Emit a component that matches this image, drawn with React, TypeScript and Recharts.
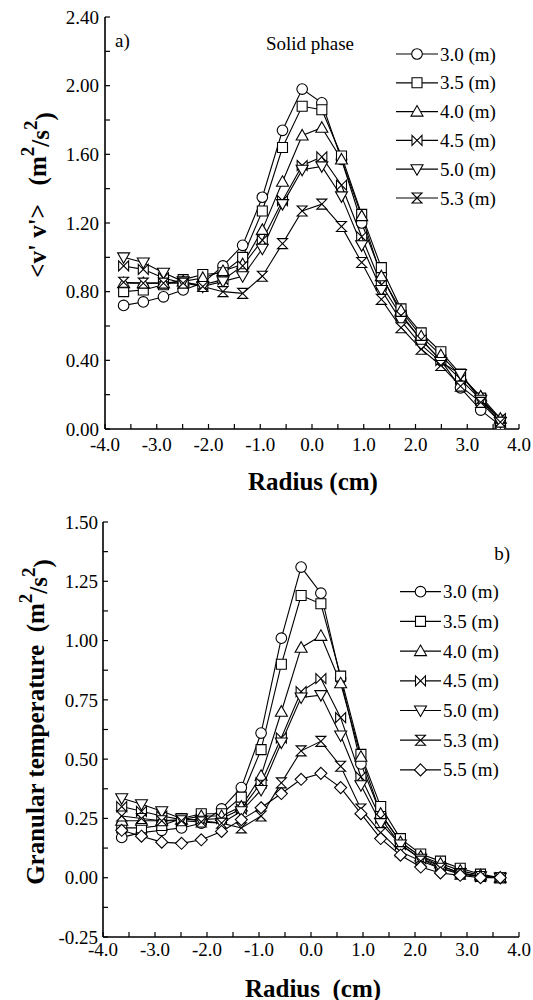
import React from "react"
import { LineChart, Line, XAxis, YAxis, Legend } from "recharts"

const radius = [-3.64, -3.26, -2.87, -2.49, -2.11, -1.72, -1.34, -0.96, -0.57, -0.19, 0.19, 0.57, 0.96, 1.34, 1.72, 2.11, 2.49, 2.87, 3.26, 3.64]

// a) <v'v'> solid phase
const vv30 = [0.72, 0.74, 0.77, 0.81, 0.85, 0.95, 1.07, 1.35, 1.74, 1.98, 1.9, 1.57, 1.2, 0.9, 0.67, 0.52, 0.4, 0.24, 0.11, 0.02]
const vv35 = [0.8, 0.81, 0.84, 0.87, 0.9, 0.91, 1.0, 1.27, 1.64, 1.88, 1.86, 1.59, 1.25, 0.94, 0.7, 0.56, 0.45, 0.32, 0.18, 0.05]
const vv40 = [0.85, 0.85, 0.85, 0.86, 0.88, 0.92, 0.96, 1.16, 1.44, 1.71, 1.755, 1.57, 1.24, 0.89, 0.69, 0.54, 0.43, 0.31, 0.19, 0.06]
const vv45 = [0.95, 0.93, 0.88, 0.85, 0.84, 0.87, 0.95, 1.1, 1.33, 1.535, 1.585, 1.42, 1.12, 0.84, 0.66, 0.52, 0.4, 0.29, 0.17, 0.06]
const vv50 = [1.0, 0.97, 0.91, 0.86, 0.83, 0.86, 0.89, 1.05, 1.31, 1.51, 1.53, 1.355, 1.07, 0.81, 0.63, 0.49, 0.39, 0.32, 0.17, 0.04]
const vv53 = [0.855, 0.85, 0.85, 0.85, 0.83, 0.8, 0.79, 0.89, 1.08, 1.27, 1.31, 1.18, 0.97, 0.755, 0.59, 0.465, 0.37, 0.25, 0.155, 0.04]

// b) granular temperature
const gt30 = [0.17, 0.19, 0.2, 0.21, 0.23, 0.29, 0.38, 0.61, 1.01, 1.31, 1.2, 0.84, 0.48, 0.27, 0.15, 0.09, 0.05, 0.02, 0.005, 0.0]
const gt35 = [0.21, 0.21, 0.22, 0.25, 0.27, 0.27, 0.34, 0.54, 0.9, 1.19, 1.155, 0.85, 0.52, 0.3, 0.165, 0.1, 0.07, 0.04, 0.015, 0.0]
const gt40 = [0.24, 0.24, 0.24, 0.245, 0.26, 0.26, 0.3, 0.43, 0.7, 0.97, 1.02, 0.82, 0.51, 0.27, 0.15, 0.09, 0.06, 0.03, 0.01, 0.0]
const gt45 = [0.3, 0.28, 0.26, 0.245, 0.245, 0.25, 0.29, 0.4, 0.59, 0.785, 0.84, 0.675, 0.425, 0.25, 0.14, 0.08, 0.05, 0.02, 0.005, 0.0]
const gt50 = [0.335, 0.31, 0.28, 0.25, 0.24, 0.23, 0.28, 0.37, 0.57, 0.76, 0.77, 0.6, 0.39, 0.23, 0.14, 0.08, 0.04, 0.02, 0.005, 0.0]
const gt53 = [0.26, 0.25, 0.24, 0.24, 0.235, 0.23, 0.21, 0.26, 0.4, 0.535, 0.575, 0.47, 0.29, 0.19, 0.11, 0.07, 0.04, 0.015, 0.005, 0.0]
const gt55 = [0.2, 0.175, 0.15, 0.145, 0.16, 0.195, 0.245, 0.295, 0.355, 0.415, 0.44, 0.38, 0.27, 0.165, 0.095, 0.045, 0.02, 0.01, 0.0, 0.0]

const xTicks = [-4, -3.5, -3, -2.5, -2, -1.5, -1, -0.5, 0, 0.5, 1, 1.5, 2, 2.5, 3, 3.5, 4]
const yTicksA = [0, 0.2, 0.4, 0.6, 0.8, 1.0, 1.2, 1.4, 1.6, 1.8, 2.0, 2.2, 2.4]
const yTicksB = [-0.25, -0.125, 0, 0.125, 0.25, 0.375, 0.5, 0.625, 0.75, 0.875, 1.0, 1.125, 1.25, 1.375, 1.5]

const seriesA = [
  { key: "s30", name: "3.0 (m)", shape: "circle", values: vv30 },
  { key: "s35", name: "3.5 (m)", shape: "square", values: vv35 },
  { key: "s40", name: "4.0 (m)", shape: "triangle", values: vv40 },
  { key: "s45", name: "4.5 (m)", shape: "bowtie", values: vv45 },
  { key: "s50", name: "5.0 (m)", shape: "down", values: vv50 },
  { key: "s53", name: "5.3 (m)", shape: "hourglass", values: vv53 },
]

const seriesB = [
  { key: "s30", name: "3.0 (m)", shape: "circle", values: gt30 },
  { key: "s35", name: "3.5 (m)", shape: "square", values: gt35 },
  { key: "s40", name: "4.0 (m)", shape: "triangle", values: gt40 },
  { key: "s45", name: "4.5 (m)", shape: "bowtie", values: gt45 },
  { key: "s50", name: "5.0 (m)", shape: "down", values: gt50 },
  { key: "s53", name: "5.3 (m)", shape: "hourglass", values: gt53 },
  { key: "s55", name: "5.5 (m)", shape: "diamond", values: gt55 },
]

const toRows = (series: any[]) =>
  radius.map((r, i) => {
    const row: any = { r }
    series.forEach((s) => (row[s.key] = s.values[i]))
    return row
  })

const dataA = toRows(seriesA)
const dataB = toRows(seriesB)

const FONT = "Liberation Serif, Tinos, DejaVu Serif, Times New Roman, serif"

function Marker({ shape, x, y }: { shape: string; x: number; y: number }) {
  const p = { fill: "#fff", stroke: "#000", strokeWidth: 1.1 }
  if (shape === "circle") return <circle cx={x} cy={y} r={5.3} {...p} />
  let d = ""
  if (shape === "square") d = `M${x - 5},${y - 5}h10v10h-10z`
  if (shape === "triangle") d = `M${x},${y - 6}L${x + 6},${y + 4.5}L${x - 6},${y + 4.5}Z`
  if (shape === "down") d = `M${x},${y + 6}L${x + 6},${y - 4.5}L${x - 6},${y - 4.5}Z`
  if (shape === "bowtie") d = `M${x - 5},${y - 5}L${x + 5},${y + 5}L${x + 5},${y - 5}L${x - 5},${y + 5}Z`
  if (shape === "hourglass") d = `M${x - 5},${y - 5}L${x + 5},${y - 5}L${x - 5},${y + 5}L${x + 5},${y + 5}Z`
  if (shape === "diamond") d = `M${x},${y - 6}L${x + 6},${y}L${x},${y + 6}L${x - 6},${y}Z`
  return <path d={d} {...p} />
}

function LegendBox({ series, rowGap, y0, lineX1, lineX2, textX }: any) {
  return (
    <svg width={150} height={rowGap * series.length + 20} style={{ overflow: "visible" }}>
      {series.map((s: any, i: number) => {
        const y = y0 + i * rowGap
        return (
          <g key={s.key}>
            <line x1={lineX1} x2={lineX2} y1={y} y2={y} stroke="#000" strokeWidth={1.2} />
            <Marker shape={s.shape} x={(lineX1 + lineX2) / 2} y={y} />
            <text x={textX} y={y} dominantBaseline="central" style={{ fontFamily: FONT }} fontSize={19} fill="#000">
              {s.name}
            </text>
          </g>
        )
      })}
    </svg>
  )
}

const fmtX = (v: number) => (Math.abs(v - Math.round(v)) < 1e-6 ? v.toFixed(1) : "")
const fmtA = (v: number) => (Math.round(v * 100) % 40 === 0 ? v.toFixed(2) : "")
const fmtB = (v: number) => (Math.round(v * 1000) % 250 === 0 ? v.toFixed(2) : "")

const axisLine = { stroke: "#000", strokeWidth: 1.6 }
const tickLine = { stroke: "#000", strokeWidth: 1.2 }
const tickText = { fill: "#000", fontSize: 19, style: { fontFamily: FONT } }
const txt = { fill: "#000", style: { fontFamily: FONT, whiteSpace: "pre" as const } }

function Panel({ data, series, yDomain, yTicks, fmtY, margin, yWidth, xHeight, xTickMargin, yTickMargin, children, legend }: any) {
  return (
    <LineChart width={533} height={500} data={data} margin={margin}>
      <XAxis dataKey="r" type="number" domain={[-4, 4]} ticks={xTicks} interval={0} tickFormatter={fmtX}
        tickSize={-5} tickMargin={xTickMargin} height={xHeight} axisLine={axisLine} tickLine={tickLine} tick={tickText} allowDataOverflow />
      <XAxis xAxisId="top" orientation="top" dataKey="r" type="number" domain={[-4, 4]} ticks={xTicks} interval={0}
        tickFormatter={() => ""} tickSize={-5} height={0} axisLine={axisLine} tickLine={tickLine} tick={tickText} allowDataOverflow />
      <YAxis type="number" domain={yDomain} ticks={yTicks} interval={0} tickFormatter={fmtY} tickSize={-5} tickMargin={yTickMargin}
        width={yWidth} axisLine={axisLine} tickLine={tickLine} tick={tickText} allowDataOverflow />
      <YAxis yAxisId="right" orientation="right" type="number" domain={yDomain} ticks={yTicks} interval={0} tickFormatter={() => ""}
        tickSize={-5} width={0} axisLine={axisLine} tickLine={tickLine} tick={tickText} allowDataOverflow />
      {series.map((s: any) => (
        <Line key={s.key} dataKey={s.key} name={s.name} stroke="#000" strokeWidth={1.1} isAnimationActive={false}
          dot={(p: any) => <Marker key={`${s.key}-${p.index}`} shape={s.shape} x={p.cx} y={p.cy} />} activeDot={false} />
      ))}
      {legend}
      {children}
    </LineChart>
  )
}

export default function App() {
  return (
    <div style={{ position: "absolute", left: 0, top: 0, width: 533, height: 1000, background: "#fff" }}>
      <Panel data={dataA} series={seriesA} yDomain={[0, 2.4]} yTicks={yTicksA} fmtY={fmtA}
        margin={{ top: 17, right: 14, bottom: 0, left: 0 }} yWidth={105} xHeight={71} xTickMargin={14} yTickMargin={11}
        legend={<Legend layout="vertical" align="center" verticalAlign="middle" wrapperStyle={{ left: 390, top: 40, width: 150 }}
          content={() => <LegendBox series={seriesA} rowGap={28.8} y0={14} lineX1={6} lineX2={48} textX={50} />} />}>
        <text x={115} y={40} dominantBaseline="central" fontSize={19} {...txt}>a)</text>
        <text x={310} y={43} textAnchor="middle" dominantBaseline="central" fontSize={19} {...txt}>Solid phase</text>
        <text x={313} y={481} textAnchor="middle" dominantBaseline="central" fontSize={25} fontWeight="bold" {...txt}>Radius (cm)</text>
        <text x={37} y={195} transform="rotate(-90, 37, 195)" textAnchor="middle" dominantBaseline="central"
          fontSize={25} fontWeight="bold" {...txt}>
          {"<v' v'>   (m"}<tspan dy="-0.55em" fontSize={19}>2</tspan><tspan dy="0.55em">/s</tspan>
          <tspan dy="-0.55em" fontSize={19}>2</tspan><tspan dy="0.55em">)</tspan>
        </text>
      </Panel>
      <div style={{ position: "absolute", left: 0, top: 500 }}>
        <Panel data={dataB} series={seriesB} yDomain={[-0.25, 1.5]} yTicks={yTicksB} fmtY={fmtB}
          margin={{ top: 22, right: 14, bottom: 0, left: 0 }} yWidth={103} xHeight={63} xTickMargin={11} yTickMargin={10}
          legend={<Legend layout="vertical" align="center" verticalAlign="middle" wrapperStyle={{ left: 390, top: 75, width: 150 }}
            content={() => <LegendBox series={seriesB} rowGap={29.7} y0={16.7} lineX1={10} lineX2={51} textX={53} />} />}>
          <text x={510} y={53} textAnchor="end" dominantBaseline="central" fontSize={19} {...txt}>b)</text>
          <text x={313} y={488} textAnchor="middle" dominantBaseline="central" fontSize={25} fontWeight="bold" {...txt}>Radius  (cm)</text>
          <text x={35} y={222} transform="rotate(-90, 35, 222)" textAnchor="middle" dominantBaseline="central"
            fontSize={25} fontWeight="bold" {...txt}>
            {"Granular temperature  (m"}<tspan dy="-0.55em" fontSize={19}>2</tspan><tspan dy="0.55em">/s</tspan>
            <tspan dy="-0.55em" fontSize={19}>2</tspan><tspan dy="0.55em">)</tspan>
          </text>
        </Panel>
      </div>
    </div>
  )
}
